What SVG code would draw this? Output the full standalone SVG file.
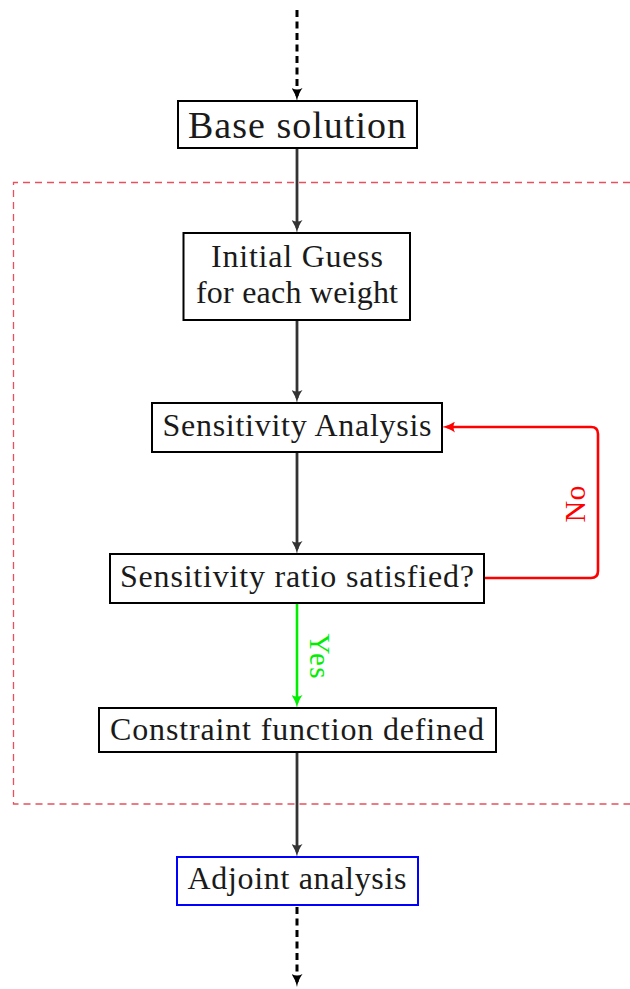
<svg xmlns="http://www.w3.org/2000/svg" width="630" height="989" viewBox="0 0 630 989">
<style>
.box{fill:#fff;stroke:#000;stroke-width:2}
.t{font-family:"Liberation Serif","DejaVu Serif",serif;fill:#1a1a1a;text-anchor:middle}
.conn{fill:none;stroke:#333;stroke-width:2.8}
.dash{fill:none;stroke:#000;stroke-width:3;stroke-dasharray:7,4.5}
</style>
<defs>
<marker id="aDark" viewBox="0 0 13 11" refX="8" refY="5.5" markerWidth="13" markerHeight="11" markerUnits="userSpaceOnUse" orient="auto"><path d="M0,0 Q6,4.4 13,5.5 Q6,6.6 0,11 Q3,5.5 0,0 Z" fill="#333"/></marker>
<marker id="aBlack" viewBox="0 0 13 11" refX="8" refY="5.5" markerWidth="13" markerHeight="11" markerUnits="userSpaceOnUse" orient="auto"><path d="M0,0 Q6,4.4 13,5.5 Q6,6.6 0,11 Q3,5.5 0,0 Z" fill="#000"/></marker>
<marker id="aRed" viewBox="0 0 13 11" refX="8" refY="5.5" markerWidth="13" markerHeight="11" markerUnits="userSpaceOnUse" orient="auto"><path d="M0,0 Q6,4.4 13,5.5 Q6,6.6 0,11 Q3,5.5 0,0 Z" fill="#ff0000"/></marker>
<marker id="aGreen" viewBox="0 0 13 11" refX="8" refY="5.5" markerWidth="13" markerHeight="11" markerUnits="userSpaceOnUse" orient="auto"><path d="M0,0 Q6,4.4 13,5.5 Q6,6.6 0,11 Q3,5.5 0,0 Z" fill="#00ee00"/></marker>
</defs>

<path id="frame" d="M630,182.5 H13.5 V804 H630" fill="none" stroke="#e8505e" stroke-width="1.3" stroke-dasharray="7,5"/>

<g id="connectors">
<path class="dash" d="M297,10 V96" marker-end="url(#aBlack)"/>
<path class="conn" d="M297,149 V228" marker-end="url(#aDark)"/>
<path class="conn" d="M297,321 V398" marker-end="url(#aDark)"/>
<path class="conn" d="M297,453 V549" marker-end="url(#aDark)"/>
<path d="M297,604 V703" fill="none" stroke="#00ee00" stroke-width="2.6" marker-end="url(#aGreen)"/>
<path d="M485,578 H591 Q598,578 598,571 V434 Q598,427 591,427 H447" fill="none" stroke="#ff0000" stroke-width="2.6" marker-end="url(#aRed)"/>
<path class="conn" d="M297,753 V852" marker-end="url(#aDark)"/>
<path class="dash" d="M297,907 V982" marker-end="url(#aBlack)"/>
<text class="t" transform="translate(585,504) rotate(-90)" font-size="30" style="fill:#ff0000" textLength="37">No</text>
<text class="t" transform="translate(310,656) rotate(90)" font-size="29" style="fill:#00ee00" textLength="45">Yes</text>
</g>

<g id="base">
<rect class="box" x="178" y="101" width="239" height="47"/>
<text class="t" x="297" y="138" font-size="38" textLength="218">Base solution</text>
</g>

<g id="initial">
<rect class="box" x="183.5" y="233" width="226.5" height="87"/>
<text class="t" x="297" y="267" font-size="32" textLength="172">Initial Guess</text>
<text class="t" x="297" y="303" font-size="32" textLength="202">for each weight</text>
</g>

<g id="sensitivity">
<rect class="box" x="152" y="403" width="290" height="49"/>
<text class="t" x="297" y="436" font-size="32" textLength="269">Sensitivity Analysis</text>
</g>

<g id="ratio">
<rect class="box" x="110" y="554" width="374" height="49"/>
<text class="t" x="297" y="587" font-size="32" textLength="354">Sensitivity ratio satisfied?</text>
</g>

<g id="constraint">
<rect class="box" x="99" y="708" width="397" height="44"/>
<text class="t" x="297" y="740" font-size="32" textLength="374">Constraint function defined</text>
</g>

<g id="adjoint">
<rect class="box" x="177" y="857" width="241" height="48" style="stroke:#0000ff"/>
<text class="t" x="297" y="889" font-size="32" textLength="219">Adjoint analysis</text>
</g>
</svg>
